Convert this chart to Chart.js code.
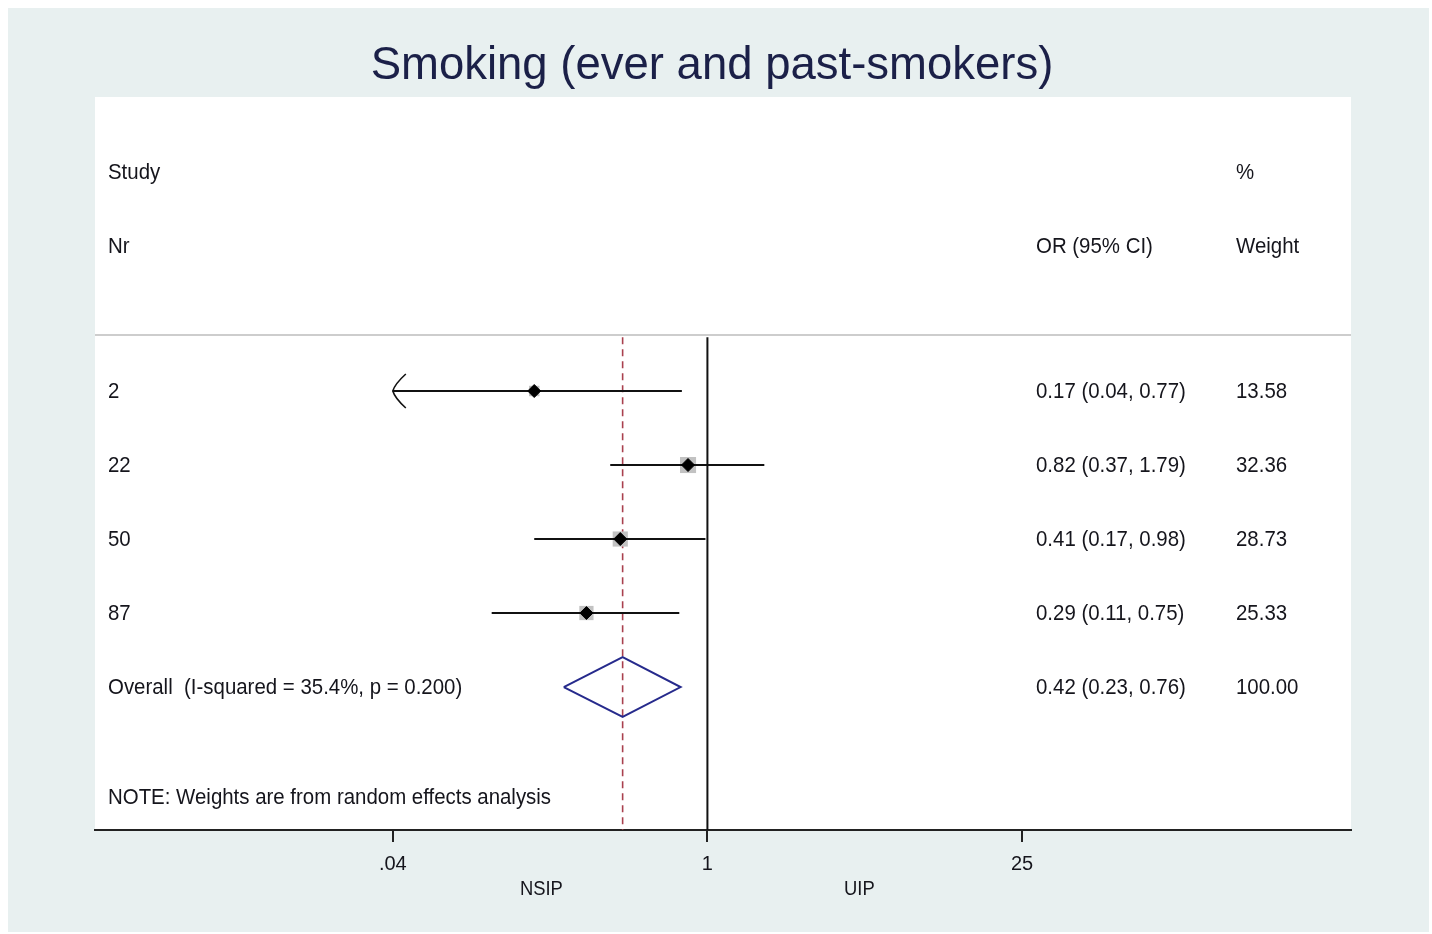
<!DOCTYPE html>
<html lang="en">
<head>
    <meta charset="UTF-8">
    <title>Smoking (ever and past-smokers)</title>
    <style>
        body { margin: 0; background: #fff; }
        canvas { display: block; }
    </style>
</head>
<body>
    <canvas id="forest" width="1432" height="934"></canvas>

    <script src="https://cdn.jsdelivr.net/npm/chart.js"></script>
    <script>
        // study level results
        const studyIds = ['2', '22', '50', '87'];
        const oddsRatios = [0.17, 0.82, 0.41, 0.29];
        const ciLower = [0.04, 0.37, 0.17, 0.11];
        const ciUpper = [0.77, 1.79, 0.98, 0.75];
        const weights = [13.58, 32.36, 28.73, 25.33];

        // pooled estimate: OR, lower, upper, weight
        const overall = [0.42, 0.23, 0.76, 100.00];
        const overallLabel = 'Overall  (I-squared = 35.4%, p = 0.200)';
        const noteText = 'NOTE: Weights are from random effects analysis';
        const titleText = 'Smoking (ever and past-smokers)';

        const tickValues = [0.04, 1, 25];
        const tickLabels = ['.04', '1', '25'];

        const FONT = '"Liberation Sans", Arial, sans-serif';
        const TEXT = '#15151c';
        Chart.defaults.font.family = FONT;

        // row positions (1 unit = one study row)
        const overallRow = studyIds.length;
        const headRows = [-2.96, -1.96];
        const ruleRow = -0.757;
        const noteRow = 5.486;
        const yMin = -3.973, yMax = 5.932;

        const ciSets = studyIds.map((id, i) => ({
            data: [{ x: ciLower[i], y: i }, { x: ciUpper[i], y: i }],
            showLine: true,
            borderColor: '#111',
            borderWidth: 2,
            pointRadius: 0,
            order: 5
        }));

        const datasets = [
            // no effect line
            {
                data: [{ x: 1, y: ruleRow + 0.03 }, { x: 1, y: yMax }],
                showLine: true, borderColor: '#111', borderWidth: 2, pointRadius: 0, order: 10
            },
            // pooled estimate line
            {
                data: [{ x: overall[0], y: ruleRow + 0.03 }, { x: overall[0], y: yMax }],
                showLine: true, borderColor: '#a9404e', borderWidth: 1.6, borderDash: [7, 5], pointRadius: 0, order: 9
            },
            // weight boxes
            {
                data: studyIds.map((id, i) => ({ x: oddsRatios[i], y: i })),
                pointStyle: 'rect',
                pointRadius: weights.map(w => 2.0 * Math.sqrt(w)),
                backgroundColor: '#c2c2c2',
                borderWidth: 0,
                order: 6
            },
            ...ciSets,
            // point estimates
            {
                data: studyIds.map((id, i) => ({ x: oddsRatios[i], y: i })),
                pointStyle: 'rectRot',
                pointRadius: 6.5,
                backgroundColor: '#000',
                borderColor: '#000',
                borderWidth: 1,
                order: 1
            },
            // pooled diamond
            {
                data: [
                    { x: overall[1], y: overallRow },
                    { x: overall[0], y: overallRow - 0.405 },
                    { x: overall[2], y: overallRow },
                    { x: overall[0], y: overallRow + 0.405 },
                    { x: overall[1], y: overallRow }
                ],
                showLine: true, borderColor: '#262a8c', borderWidth: 2, pointRadius: 0, order: 2
            }
        ];

        const fmt = v => v.toFixed(2);

        // Stata style text is a little narrower than the font
        function narrowText(ctx, t, px, py, size, sx) {
            ctx.save();
            ctx.font = size + 'px ' + FONT;
            ctx.translate(px, py);
            ctx.scale(sx, 1);
            ctx.fillText(t, 0, 0);
            ctx.restore();
        }

        const forestText = {
            id: 'forestText',
            beforeDraw(chart) {
                const { ctx, chartArea: a } = chart;
                ctx.save();
                ctx.fillStyle = '#fff';
                ctx.fillRect(0, 0, chart.width, chart.height);
                ctx.fillStyle = '#e8f0f0';
                ctx.fillRect(8, 8, 1421, 924);
                ctx.fillStyle = '#fff';
                ctx.fillRect(a.left, a.top, a.right - a.left, a.bottom - a.top);

                ctx.fillStyle = '#1b2048';
                ctx.textAlign = 'center';
                ctx.textBaseline = 'middle';
                ctx.font = '45.5px ' + FONT;
                ctx.fillText(titleText, 712, 66);
                ctx.restore();
            },
            afterDatasetsDraw(chart) {
                const { ctx, chartArea: a, scales: { x, y } } = chart;
                const left = a.left + 13, colOR = 1036, colW = 1236;
                ctx.save();

                // header rule
                ctx.strokeStyle = '#cdcdcd';
                ctx.lineWidth = 2;
                ctx.beginPath();
                ctx.moveTo(a.left, y.getPixelForValue(ruleRow));
                ctx.lineTo(a.right, y.getPixelForValue(ruleRow));
                ctx.stroke();

                // arrows where the CI runs past the axis
                ctx.strokeStyle = '#111';
                ctx.lineWidth = 1.6;
                studyIds.forEach((id, i) => {
                    if (ciLower[i] > tickValues[0]) return;
                    const px = x.getPixelForValue(ciLower[i]), py = y.getPixelForValue(i);
                    ctx.beginPath();
                    ctx.moveTo(px + 13, py - 17);
                    ctx.quadraticCurveTo(px + 2, py - 7, px, py);
                    ctx.quadraticCurveTo(px + 2, py + 7, px + 13, py + 17);
                    ctx.stroke();
                });

                ctx.fillStyle = TEXT;
                ctx.textBaseline = 'middle';
                ctx.textAlign = 'left';
                const put = (t, px, row) => narrowText(ctx, t, px, y.getPixelForValue(row) + 1, 21.5, 0.95);

                put('Study', left, headRows[0]);
                put('Nr', left, headRows[1]);
                put('%', colW, headRows[0]);
                put('OR (95% CI)', colOR, headRows[1]);
                put('Weight', colW, headRows[1]);

                studyIds.forEach((id, i) => {
                    put(id, left, i);
                    put(`${fmt(oddsRatios[i])} (${fmt(ciLower[i])}, ${fmt(ciUpper[i])})`, colOR, i);
                    put(fmt(weights[i]), colW, i);
                });
                put(overallLabel, left, overallRow);
                put(`${fmt(overall[0])} (${fmt(overall[1])}, ${fmt(overall[2])})`, colOR, overallRow);
                put(fmt(overall[3]), colW, overallRow);
                put(noteText, left, noteRow);
                ctx.restore();
            },
            afterDraw(chart) {
                const { ctx, scales: { x } } = chart;
                const mid = x.getPixelForValue(1);
                ctx.save();
                ctx.fillStyle = TEXT;
                ctx.textAlign = 'center';
                ctx.textBaseline = 'middle';
                narrowText(ctx, 'NSIP', mid - 166, 889, 20, 0.92);
                narrowText(ctx, 'UIP', mid + 152, 889, 20, 0.92);
                ctx.restore();
            }
        };

        new Chart(document.getElementById('forest'), {
            type: 'scatter',
            data: { datasets },
            plugins: [forestText],
            options: {
                responsive: false,
                animation: false,
                devicePixelRatio: 1,
                layout: { padding: { left: 95, right: 81, top: 97, bottom: 0 } },
                plugins: {
                    legend: { display: false },
                    tooltip: { enabled: false },
                    title: { display: false }
                },
                scales: {
                    x: {
                        type: 'logarithmic',
                        position: 'bottom',
                        min: 0.0019,
                        max: 724,
                        afterBuildTicks: axis => { axis.ticks = tickValues.map(v => ({ value: v })); },
                        afterFit: scale => { scale.height = 104; },
                        ticks: {
                            autoSkip: false,
                            maxRotation: 0,
                            padding: 10,
                            color: TEXT,
                            font: { size: 20 },
                            callback: (v, i) => tickLabels[i]
                        },
                        grid: { drawOnChartArea: false, drawTicks: true, tickLength: 12, color: '#222', lineWidth: 2 },
                        border: { display: true, color: '#222', width: 2 }
                    },
                    y: {
                        type: 'linear',
                        display: false,
                        reverse: true,
                        min: yMin,
                        max: yMax
                    }
                }
            }
        });
    </script>
</body>
</html>
